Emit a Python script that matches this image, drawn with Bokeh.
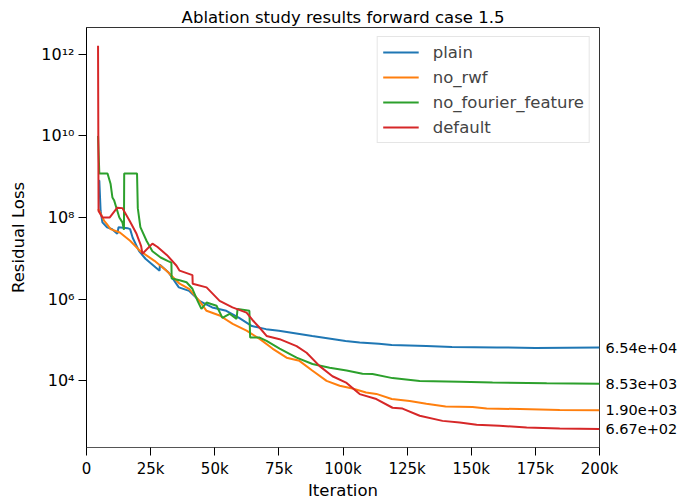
from bokeh.plotting import figure
from bokeh.models import (FixedTicker, CustomJSTickFormatter, Legend, LegendItem, Range1d, LogAxis)
from bokeh.embed import file_html
from bokeh.resources import INLINE

# ---- data ----
plain_x = [4500, 5000, 5500, 6200, 8000, 10000, 12000, 12500, 16000, 17000, 18000, 20500, 23000,
           27000, 28500, 28600, 32000, 36000, 40000, 44000, 49000, 54500, 59500, 64500, 70000,
           75000, 88000, 101000, 106500, 114000, 119000, 132500, 142500, 160000, 175000, 200000]
plain_y = [8e8, 8e8, 1.45e8, 7.6e7, 5.8e7, 5.2e7, 4.0e7, 5.8e7, 5.5e7, 5.2e7, 3.2e7, 1.5e7, 9.8e6,
           6.0e6, 5.0e6, 7.0e6, 4.5e6, 1.95e6, 1.6e6, 9.1e5, 6.3e5, 5.2e5, 3.5e5, 2.2e5, 1.85e5,
           1.7e5, 1.26e5, 9.5e4, 8.7e4, 8.1e4, 7.6e4, 7.2e4, 6.8e4, 6.6e4, 6.4e4, 6.54e4]

norwf_x = [4500, 5000, 6900, 7800, 9400, 13000, 17000, 21000, 26500, 31200, 36300, 40000, 44000,
           46800, 51900, 57000, 62400, 67500, 72500, 78000, 83000, 88000, 93600, 98700, 103700,
           109000, 113000, 119000, 126000, 132500, 140000, 150500, 156000, 169000, 184500, 200000]
norwf_y = [1.6e8, 1.45e8, 8.3e7, 7.1e7, 5.2e7, 4.3e7, 2.7e7, 1.5e7, 8.7e6, 5.0e6, 2.4e6, 1.8e6, 9.1e5,
           5.2e5, 4.0e5, 2.5e5, 1.7e5, 1.07e5, 6.2e4, 3.7e4, 3.1e4, 1.8e4, 1.0e4, 7.6e3, 6.5e3,
           5.2e3, 4.8e3, 3.6e3, 3.2e3, 2.75e3, 2.35e3, 2.3e3, 2.1e3, 2.05e3, 1.95e3, 1.90e3]

nofourier_x = [4500, 5000, 8200, 9400, 10100, 10800, 12800, 14000, 14600, 14700, 19700, 20000, 21000,
               23400, 25700, 28900, 31600, 33100, 33200, 36300, 39000, 41300, 43300, 44800, 46800,
               50700, 53000, 55800, 58500, 58900, 63500, 63800, 67500, 70200, 75300, 81900, 88100,
               94800, 101400, 107600, 111500, 119300, 129900, 145500, 158300, 179400, 200000]
nofourier_y = [1e10, 1.2e9, 1.2e9, 6.6e8, 3.1e8, 2.6e8, 1.0e8, 7.6e7, 5.0e7, 1.2e9, 1.2e9, 1.7e8, 5.8e7,
               2.7e7, 1.5e7, 1.05e7, 8.7e6, 7.9e6, 3.2e6, 2.9e6, 2.6e6, 1.8e6, 9.1e5, 5.8e5, 8.3e5,
               6.9e5, 3.5e5, 4.4e5, 3.3e5, 5.8e5, 5.2e5, 1.15e5, 1.15e5, 9.5e4, 6.2e4, 3.7e4, 2.6e4,
               2.1e4, 1.8e4, 1.5e4, 1.48e4, 1.17e4, 1.0e4, 9.5e3, 9.1e3, 8.7e3, 8.53e3]

default_x = [4500, 4700, 6200, 9000, 12000, 14000, 16800, 19500, 21300, 21800, 25700, 27700, 31400,
             35100, 36300, 41300, 41400, 46800, 51900, 56900, 62400, 64700, 67500, 70200, 75300,
             81900, 85800, 90900, 95900, 101400, 106500, 113000, 119300, 123200, 129900, 138800,
             145500, 152100, 161000, 171600, 184500, 200000]
default_y = [1.6e12, 1.45e8, 1.0e8, 1.0e8, 1.74e8, 1.7e8, 8.3e7, 4.0e7, 2.0e7, 1.3e7, 2.3e7, 1.9e7, 1.2e7,
             6.6e6, 5.0e6, 3.9e6, 2.4e6, 1.95e6, 9.1e5, 6.3e5, 4.7e5, 3.1e5, 2.0e5, 1.26e5, 1.05e5,
             7.1e4, 4.9e4, 2.3e4, 1.3e4, 8.9e3, 4.75e3, 3.6e3, 2.2e3, 2.1e3, 1.4e3, 1.05e3,
             9.6e2, 8.4e2, 8.0e2, 7.2e2, 6.8e2, 6.67e2]

series_names = ["plain", "no_rwf", "no_fourier_feature", "default"]
series_x = [plain_x, norwf_x, nofourier_x, default_x]
series_y = [plain_y, norwf_y, nofourier_y, default_y]
colors = ["#1f77b4", "#ff7f0e", "#2ca02c", "#d62728"]

x_ticks = [0, 25000, 50000, 75000, 100000, 125000, 150000, 175000, 200000]
y_ticks = [1e4, 1e6, 1e8, 1e10, 1e12]

FONT = "DejaVu Sans"

p = figure(width=680, height=504, output_backend="svg", toolbar_location=None,
           y_axis_type="log", x_range=Range1d(0, 200000), y_range=Range1d(234, 4.5e12),
           title="Ablation study results forward case 1.5",
           min_border_left=86, min_border_right=80, min_border_top=27, min_border_bottom=57)

p.title.align = "center"
p.title.text_font = FONT
p.title.text_font_size = "16.5px"
p.title.text_font_style = "normal"
p.title.text_color = "black"
p.title.standoff = 2

p.xgrid.visible = False
p.ygrid.visible = False
p.outline_line_color = "#333333"
p.outline_line_width = 1
p.background_fill_color = "white"
p.border_fill_color = "white"

p.xaxis.ticker = FixedTicker(ticks=x_ticks)
p.xaxis.formatter = CustomJSTickFormatter(code="return tick == 0 ? '0' : (tick/1000) + 'k';")
p.yaxis.ticker = FixedTicker(ticks=y_ticks, minor_ticks=[])
p.yaxis.formatter = CustomJSTickFormatter(code="""
const sup = {'0':'\u2070','1':'\u00b9','2':'\u00b2','3':'\u00b3','4':'\u2074','5':'\u2075','6':'\u2076','7':'\u2077','8':'\u2078','9':'\u2079'};
const e = String(Math.round(Math.log10(tick)));
let s = '';
for (const c of e) { s += sup[c]; }
return '10' + s;
""")

for ax in (p.xaxis[0], p.yaxis[0]):
    ax.axis_line_color = "black"
    ax.major_tick_line_color = "black"
    ax.major_tick_out = 8
    ax.major_tick_in = 0
    ax.minor_tick_out = 0
    ax.minor_tick_in = 0
    ax.major_label_text_font = FONT
    ax.major_label_text_font_size = "15px"
    ax.major_label_text_color = "black"
    ax.axis_label_text_font = FONT
    ax.axis_label_text_font_size = "16.5px"
    ax.axis_label_text_font_style = "normal"
    ax.axis_label_text_color = "black"
    ax.major_label_standoff = 4

p.yaxis.major_label_text_font_size = "16px"
p.xaxis.axis_label = "Iteration"
p.yaxis.axis_label = "Residual Loss"
p.xaxis.axis_label_standoff = 0
p.yaxis.axis_label_standoff = 10
p.xaxis.axis_line_color = "#555555"

items = []
final_vals = []
for name, xs, ys, c in zip(series_names, series_x, series_y, colors):
    r = p.line(xs, ys, line_color=c, line_width=2)
    items.append(LegendItem(label=name, renderers=[r]))
    final_vals.append(ys[-1])

# final-value annotations on the right, as tick labels of a right-hand axis
right_axis = LogAxis(ticker=FixedTicker(ticks=final_vals, minor_ticks=[]))
right_axis.formatter = CustomJSTickFormatter(code="""
const s = tick.toExponential(2);
const parts = s.split('e');
const sign = parts[1][0];
let d = parts[1].slice(1);
if (d.length < 2) { d = '0' + d; }
return parts[0] + 'e' + sign + d;
""")
right_axis.axis_line_color = None
right_axis.major_tick_line_color = None
right_axis.major_tick_out = 0
right_axis.major_tick_in = 0
right_axis.minor_tick_out = 0
right_axis.minor_tick_in = 0
right_axis.major_label_standoff = 6
right_axis.major_label_text_font = FONT
right_axis.major_label_text_font_size = "14.5px"
right_axis.major_label_text_color = "black"
p.add_layout(right_axis, "right")

legend = Legend(items=items, location="top_right")
legend.margin = 9
legend.padding = 5
legend.spacing = 5
legend.glyph_width = 36
legend.glyph_height = 20
legend.label_height = 20
legend.label_standoff = 14
legend.label_text_font = FONT
legend.label_text_font_size = "16.5px"
legend.border_line_color = "#cccccc"
legend.border_line_width = 1
legend.background_fill_alpha = 0.8
p.add_layout(legend)

open("out.html", "w").write(file_html(p, INLINE))
